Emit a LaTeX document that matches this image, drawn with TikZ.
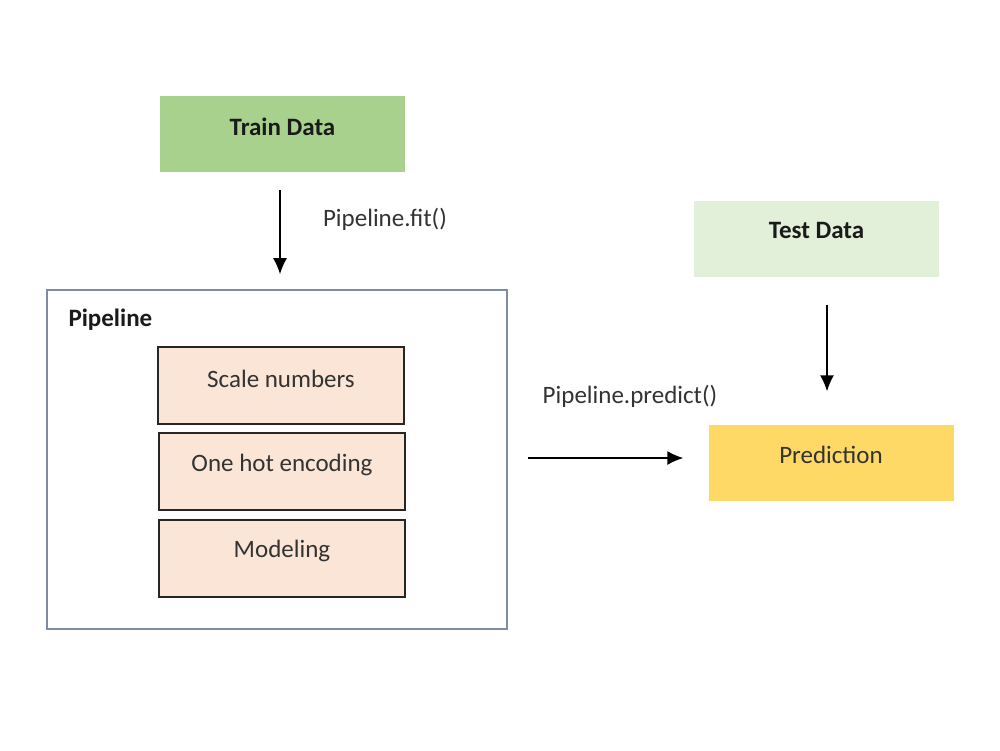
\documentclass[tikz,border=0pt]{standalone}
\usepackage{fontspec}
\setmainfont{Carlito}
\usetikzlibrary{arrows.meta}
\definecolor{traingreen}{HTML}{A9D18E}
\definecolor{testgreen}{HTML}{E2F0D9}
\definecolor{stepfill}{HTML}{FBE5D6}
\definecolor{predfill}{HTML}{FFD966}
\definecolor{frameblue}{HTML}{7F8CA0}
\definecolor{textdark}{HTML}{1A1A1A}
\definecolor{textgrey}{HTML}{333333}
\begin{document}
\begin{tikzpicture}[x=1pt,y=-1pt,
  box/.style={draw=none,inner sep=0pt,minimum width=245pt,minimum height=76pt},
  stepbox/.style={draw=black!85,line width=1.6pt,fill=stepfill,inner sep=0pt,
                  minimum width=246pt,minimum height=77pt},
  title/.style={font=\fontsize{25}{30}\selectfont\bfseries,text=textdark},
  plain/.style={font=\fontsize{25}{30}\selectfont,text=textgrey},
  flow/.style={line width=1.5pt,-{Latex[length=16pt,width=14pt]}}]
\useasboundingbox (0,0) rectangle (1000,750);
\fill[white] (0,0) rectangle (1000,750);

% data sources and result
\node[box,fill=traingreen] (train) at (282.5,134) {};
\node[title] (traint) at (282.5,127) {Train Data};
\node[box,fill=testgreen] (test) at (816.5,238.5) {};
\node[title] (testt) at (816.5,230.5) {Test Data};
\node[box,fill=predfill] (pred) at (831,462.5) {};
\node[plain] (predt) at (831,454.5) {Prediction};

% pipeline frame and its steps
\node[draw=frameblue,line width=1.6pt,inner sep=0pt,minimum width=460pt,minimum height=339pt] (pipe) at (277,459.5) {};
\node[title,anchor=west] (pipet) at (65,320) {Pipeline};
\node[stepbox] (scale) at (281,385.5) {};
\node[plain] (scalet) at (281,378.5) {Scale numbers};
\node[stepbox] (onehot) at (282,471.5) {};
\node[plain] (onehott) at (282,465) {One hot encoding};
\node[stepbox] (model) at (282,558.5) {};
\node[plain] (modelt) at (282,551) {Modeling};

% connectors
\draw[flow,shorten <=18pt,shorten >=15pt] (train.south -| 280,0) -- (pipe.north -| 280,0);
\node[plain] (fitlab) at (385,219.5) {Pipeline.fit()};
\draw[flow,shorten <=28pt,shorten >=33pt] (test.south -| 827,0) -- (pred.north -| 827,0);
\draw[flow,shorten <=20pt,shorten >=25pt] (pipe.east |- 0,458) -- (pred.west |- 0,458);
\node[plain] (predlab) at (630,396.5) {Pipeline.predict()};
\end{tikzpicture}
\end{document}
